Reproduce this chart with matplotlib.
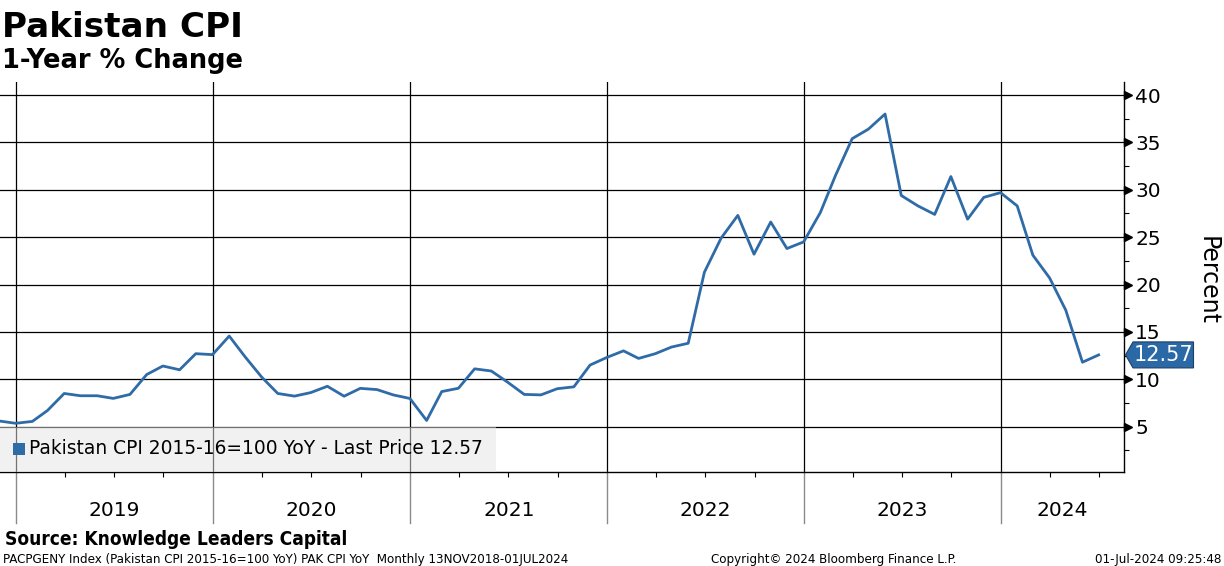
import matplotlib
matplotlib.use('Agg')
import matplotlib.pyplot as plt
import matplotlib.dates as mdates
import matplotlib.transforms as mtransforms
from matplotlib.patches import Rectangle, Polygon
from matplotlib.ticker import MultipleLocator, FixedLocator
from matplotlib import font_manager
import pandas as pd

# ---------------- data ----------------
first_month_end = '2018-11-30'
cpi_yoy = [
    5.6, 5.35,                                                     # Nov-Dec 2018
    5.55, 6.7, 8.5, 8.26, 8.26, 7.98, 8.4, 10.5, 11.4, 11.0, 12.7, 12.6,   # 2019
    14.56, 12.4, 10.24, 8.5, 8.22, 8.59, 9.26, 8.21, 9.04, 8.91, 8.35, 7.97,  # 2020
    5.65, 8.7, 9.05, 11.1, 10.87, 9.7, 8.4, 8.35, 9.0, 9.2, 11.5, 12.3,   # 2021
    13.0, 12.2, 12.7, 13.4, 13.8, 21.3, 24.9, 27.3, 23.2, 26.6, 23.8, 24.5,  # 2022
    27.6, 31.5, 35.4, 36.4, 38.0, 29.4, 28.3, 27.4, 31.4, 26.9, 29.2, 29.7,  # 2023
    28.3, 23.1, 20.7, 17.3, 11.8, 12.57,                            # 2024
]
dates = pd.date_range(first_month_end, periods=len(cpi_yoy), freq='ME')
year_labels = ['2019', '2020', '2021', '2022', '2023', '2024']
y_ticks = [5, 10, 15, 20, 25, 30, 35, 40]
last_price = cpi_yoy[-1]

title = 'Pakistan CPI'
subtitle = '1-Year % Change'
legend_label = 'Pakistan CPI 2015-16=100 YoY - Last Price 12.57'
source_text = 'Source: Knowledge Leaders Capital'
footer_left = 'PACPGENY Index (Pakistan CPI 2015-16=100 YoY) PAK CPI YoY  Monthly 13NOV2018-01JUL2024'
footer_mid = 'Copyright\u00a9 2024 Bloomberg Finance L.P.'
footer_right = '01-Jul-2024 09:25:48'

# ---------------- style ----------------
W, H = 1224, 566
LINE = '#2f6ba7'
plt.rcParams['font.family'] = ['DejaVu Sans']

names = {f.name for f in font_manager.fontManager.ttflist}
cond_faces = [f for f in font_manager.fontManager.ttflist
              if f.name == 'DejaVu Sans' and 'ondensed' in str(f.stretch) + f.fname]
HAS_COND = len(cond_faces) > 0
HAS_NARROW = 'Liberation Sans Narrow' in names

fig = plt.figure(figsize=(W / 100, H / 100), dpi=100)
fig.patch.set_facecolor('white')

def fx(px):
    return px / W

def fy(py):
    return 1 - py / H

ax_left, ax_right, ax_top, ax_bot = 0, 1124, 82, 472
ax = fig.add_axes([fx(ax_left), fy(ax_bot), (ax_right - ax_left) / W, (ax_bot - ax_top) / H])

ax.plot(dates, cpi_yoy, color=LINE, lw=2.0, zorder=3)

x_lo = mdates.date2num(pd.Timestamp('2018-12-02'))
x_hi = mdates.date2num(pd.Timestamp('2024-08-16'))
ax.set_xlim(x_lo, x_hi)
ax.set_ylim(0.21, 41.38)

for s in ['left', 'top']:
    ax.spines[s].set_visible(False)
for s in ['right', 'bottom']:
    ax.spines[s].set_color('black')
    ax.spines[s].set_linewidth(1.0)

ax.yaxis.tick_right()
ax.yaxis.set_major_locator(FixedLocator(y_ticks))
ax.yaxis.set_minor_locator(MultipleLocator(2.5))
ax.tick_params(axis='y', which='major', length=0, pad=8, labelsize=14.5)
ax.tick_params(axis='y', which='minor', length=3.5, width=0.8, direction='out', right=True, left=False)
ax.grid(axis='y', which='major', color='black', lw=0.9)

year_starts = [pd.Timestamp(f'{y}-01-01') for y in year_labels]
ax.xaxis.set_major_locator(FixedLocator([mdates.date2num(d) for d in year_starts]))
ax.xaxis.set_minor_locator(mdates.MonthLocator(bymonth=[1, 4, 7, 10]))
ax.tick_params(axis='x', which='major', length=0, labelbottom=False)
ax.tick_params(axis='x', which='minor', length=3.5, width=0.8, direction='out')
ax.grid(axis='x', which='major', color='black', lw=0.9)
ax.set_axisbelow(True)

blend_y = mtransforms.blended_transform_factory(ax.transAxes, ax.transData)
tri_off = mtransforms.ScaledTranslation(3.5 / 100, 0, fig.dpi_scale_trans)
ax.plot([1] * len(y_ticks), y_ticks, ls='none', marker='>', ms=5.5, color='black',
        transform=blend_y + tri_off, clip_on=False, zorder=5)

blend_x = mtransforms.blended_transform_factory(ax.transData, ax.transAxes)
sep_depth = (523 - ax_bot) / (ax_bot - ax_top)
lab_y = -(511 - ax_bot) / (ax_bot - ax_top)
for i, lab in enumerate(year_labels):
    d0 = mdates.date2num(year_starts[i])
    d1 = mdates.date2num(pd.Timestamp(f'{int(lab) + 1}-01-01'))
    ax.plot([d0, d0], [0, -sep_depth], color='#8a8a8a', lw=1.0, transform=blend_x, clip_on=False)
    c = (max(d0, x_lo) + min(d1, x_hi)) / 2
    ax.text(c, lab_y, lab, transform=blend_x, ha='center', va='center', fontsize=14.5)

# legend box
leg_top, leg_right = 426.5, 496
ax.add_patch(Rectangle((fx(0), fy(ax_bot)), fx(leg_right), (ax_bot - leg_top) / H,
                       transform=fig.transFigure, facecolor='#e4e4e4', alpha=0.5,
                       edgecolor='none', zorder=4, clip_on=False))
ax.add_patch(Rectangle((fx(13), fy(455)), fx(12), 12 / H, transform=fig.transFigure,
                       facecolor=LINE, edgecolor='none', zorder=5, clip_on=False))
fig.text(fx(29), fy(449), legend_label, ha='left', va='center', fontsize=13.4, zorder=6)

# last price tag
fig.canvas.draw()
yd = ax.transData.transform((x_lo, last_price))[1]
x_spine = ax.transAxes.transform((1, 0))[0]
tag_h = 13
tip = x_spine + 1.5
poly = Polygon([(tip, yd), (tip + 7.5, yd + tag_h), (tip + 68, yd + tag_h),
                (tip + 68, yd - tag_h), (tip + 7.5, yd - tag_h)], closed=True,
               facecolor='#2b68a6', edgecolor='#1d3f66', lw=0.8,
               transform=mtransforms.IdentityTransform())
fig.add_artist(poly)
fig.text((tip + 38) / W, yd / H, f'{last_price:.2f}', color='white', ha='center', va='center',
         fontsize=15)

fig.text(fx(1208), fy(280), 'Percent', rotation=270, ha='center', va='center', fontsize=17)

fig.text(fx(2), fy(37), title, fontsize=24.7, fontweight='bold', ha='left', va='baseline')
fig.text(fx(2), fy(68), subtitle, fontsize=18.5, fontweight='bold', ha='left', va='baseline')

if HAS_NARROW:
    nfam, nstretch, src_fs, foot_fs = ['Liberation Sans Narrow', 'DejaVu Sans'], 'normal', 15, 10
elif HAS_COND:
    nfam, nstretch, src_fs, foot_fs = ['DejaVu Sans'], 'condensed', 13.7, 9.5
else:
    nfam, nstretch, src_fs, foot_fs = ['DejaVu Sans'], 'normal', 12.3, 8.6
fig.text(fx(5), fy(545), source_text, fontsize=src_fs, fontweight='bold', family=nfam,
         fontstretch=nstretch, ha='left', va='baseline')
fig.text(fx(3), fy(563), footer_left, fontsize=foot_fs, family=nfam, fontstretch=nstretch,
         ha='left', va='baseline')
fig.text(fx(711), fy(563), footer_mid, fontsize=foot_fs, family=nfam, fontstretch=nstretch,
         ha='left', va='baseline')
fig.text(fx(1221), fy(563), footer_right, fontsize=foot_fs, family=nfam, fontstretch=nstretch,
         ha='right', va='baseline')

fig.savefig('out.png', dpi=100)
